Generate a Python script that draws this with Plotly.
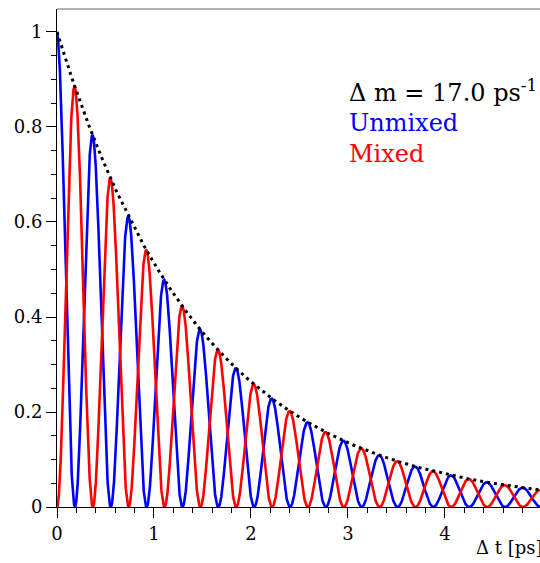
import numpy as np
import plotly.graph_objects as go

# Oscillation parameters
DELTA_M = 17.0   # ps^-1
TAU = 1.5        # ps, lifetime
T_MAX = 4.98

t = np.linspace(0, T_MAX, 4000)
envelope = np.exp(-t / TAU)
unmixed = envelope * (1 + np.cos(DELTA_M * t)) / 2
mixed = envelope * (1 - np.cos(DELTA_M * t)) / 2

FONT = "DejaVu Serif"

fig = go.Figure()
fig.add_trace(go.Scatter(x=t, y=unmixed, mode="lines",
                         line=dict(color="#0000ff", width=2.6), name="Unmixed"))
fig.add_trace(go.Scatter(x=t, y=mixed, mode="lines",
                         line=dict(color="#ff0000", width=2.6), name="Mixed"))
fig.add_trace(go.Scatter(x=t, y=envelope, mode="lines",
                         line=dict(color="black", width=3, dash="3px,4px"), name="envelope"))

axis_common = dict(
    showgrid=False, zeroline=False, showline=True, linecolor="black", linewidth=1,
    ticks="outside", ticklen=10, tickwidth=1, tickcolor="black",
    tickfont=dict(family=FONT, size=18, color="black"),
)

fig.update_xaxes(range=[0, T_MAX], dtick=1, tick0=0,
                 minor=dict(ticks="outside", ticklen=5, dtick=0.2, tickcolor="black"),
                 **axis_common)
fig.update_yaxes(range=[0, 1.0484], dtick=0.2, tick0=0,
                 minor=dict(ticks="outside", ticklen=5, dtick=0.05, tickcolor="black"),
                 **axis_common)

# top frame line
fig.add_shape(type="line", xref="paper", yref="paper", x0=0, x1=1, y0=1, y1=1,
              line=dict(color="#666666", width=1.2))

ann = [
    dict(text="Δ m = 17.0 ps<sup>-1</sup>", x=0.600, y=0.835, color="black"),
    dict(text="Unmixed", x=0.600, y=0.772, color="#0000ff"),
    dict(text="Mixed", x=0.600, y=0.708, color="#ff0000"),
]
for a in ann:
    fig.add_annotation(text=a["text"], x=a["x"], y=a["y"], xref="paper", yref="paper",
                       xanchor="left", yanchor="middle", showarrow=False,
                       font=dict(family=FONT, size=24, color=a["color"]))

fig.add_annotation(text="Δ t [ps]", x=1.008, y=-0.082, xref="paper", yref="paper",
                   xanchor="right", yanchor="middle", showarrow=False,
                   font=dict(family=FONT, size=18, color="black"))

fig.update_layout(
    width=540, height=563,
    margin=dict(l=57, r=0, t=9, b=56),
    plot_bgcolor="white", paper_bgcolor="white",
    showlegend=False,
)

fig.write_html("out.html")
